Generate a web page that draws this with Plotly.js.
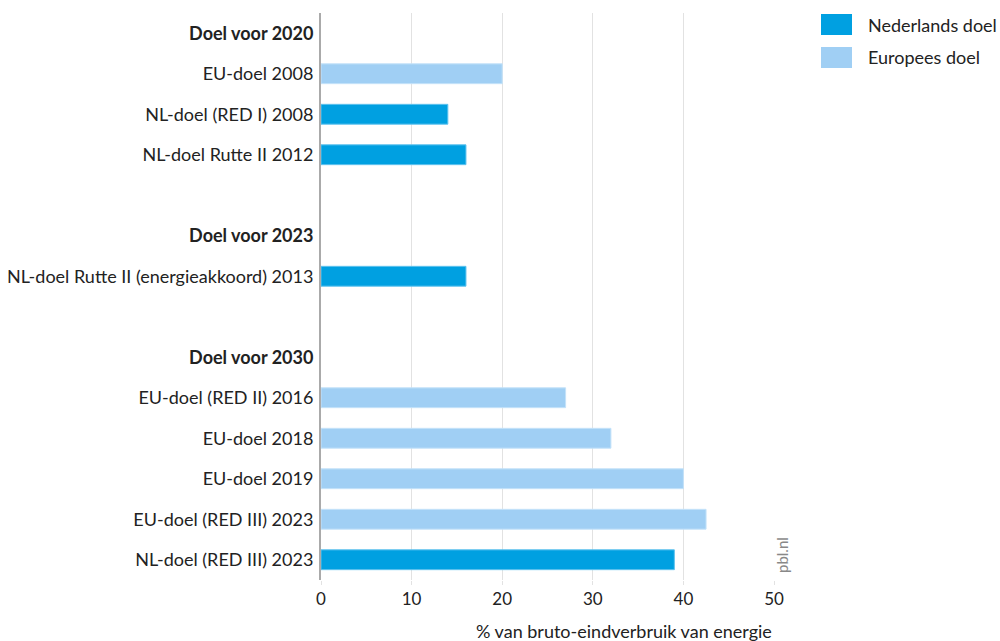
<!DOCTYPE html>
<html>
<head>
<meta charset="utf-8">
<script src="https://cdn.plot.ly/plotly-3.0.1.min.js"></script>
<style>html,body{margin:0;padding:0;background:#fff;}#chart{width:1000px;height:641px;}</style>
</head>
<body>
<div id="chart"></div>
<script>
// Rows top to bottom
const categories = [
  "<b>Doel voor 2020</b>",
  "EU-doel 2008",
  "NL-doel (RED I) 2008",
  "NL-doel Rutte II 2012",
  " ",
  "<b>Doel voor 2023</b>",
  "NL-doel Rutte II (energieakkoord) 2013",
  "  ",
  "<b>Doel voor 2030</b>",
  "EU-doel (RED II) 2016",
  "EU-doel 2018",
  "EU-doel 2019",
  "EU-doel (RED III) 2023",
  "NL-doel (RED III) 2023"
];
const nlCategories = ["NL-doel (RED I) 2008", "NL-doel Rutte II 2012", "NL-doel Rutte II (energieakkoord) 2013", "NL-doel (RED III) 2023"];
const nlValues = [14, 16, 16, 39];
const euCategories = ["EU-doel 2008", "EU-doel (RED II) 2016", "EU-doel 2018", "EU-doel 2019", "EU-doel (RED III) 2023"];
const euValues = [20, 27, 32, 40, 42.5];
const seriesNames = ["Nederlands doel", "Europees doel"];
const xTicks = [0, 10, 20, 30, 40, 50];
const xTitle = "% van bruto-eindverbruik van energie";
const sourceLabel = "pbl.nl";

const darkBlue = "#00a0e1";
const lightBlue = "#a0cff4";
const FONT = "Lato, 'Open Sans', sans-serif";
const FS = 18;

const traces = [
  {type: "bar", orientation: "h", name: seriesNames[0], y: nlCategories, x: nlValues,
   marker: {color: darkBlue, line: {color: "#5fc2ee", width: 1}}, width: 0.49, hoverinfo: "x+y"},
  {type: "bar", orientation: "h", name: seriesNames[1], y: euCategories, x: euValues,
   marker: {color: lightBlue, line: {color: "#c4e2f9", width: 1}}, width: 0.49, hoverinfo: "x+y"}
];

const legendColors = [darkBlue, lightBlue];
const shapes = [];
const annotations = [];
seriesNames.forEach((n, i) => {
  const top = 14 + i * 33;
  shapes.push({type: "rect", xref: "paper", yref: "paper",
    x0: (821 - 321) / 453, x1: (852 - 321) / 453,
    y0: (580 - top) / 567, y1: (580 - top - 21) / 567,
    fillcolor: legendColors[i], line: {width: 0}});
  annotations.push({xref: "paper", yref: "paper", x: (866 - 321) / 453, y: (580 - top - 10.5) / 567,
    xanchor: "left", yanchor: "middle", text: n, showarrow: false,
    font: {family: FONT, size: FS, color: "#222"}});
});
annotations.push({xref: "paper", yref: "paper", x: 1, y: 0, yshift: -51, xanchor: "right", yanchor: "middle",
  text: xTitle, showarrow: false, font: {family: FONT, size: FS, color: "#222"}});
annotations.push({xref: "paper", yref: "paper", x: (782 - 321) / 453, y: (580 - 555) / 567,
  xanchor: "center", yanchor: "middle", text: sourceLabel, textangle: -90, showarrow: false,
  font: {family: FONT, size: 15, color: "#888"}});

const layout = {
  width: 1000, height: 641,
  margin: {l: 321, r: 226, t: 13, b: 61, pad: 0},
  paper_bgcolor: "#fff", plot_bgcolor: "#fff",
  showlegend: false,
  barmode: "overlay",
  font: {family: FONT, size: FS, color: "#222"},
  xaxis: {range: [0, 50], tickvals: xTicks, ticktext: xTicks.map(String),
    showgrid: true, gridcolor: "#e2e2e2", gridwidth: 1, zeroline: false,
    showline: false, ticks: "outside", ticklen: 4, tickcolor: "#e2e2e2",
    tickfont: {family: FONT, size: FS - 1, color: "#222"}, fixedrange: true},
  yaxis: {type: "category", categoryorder: "array", categoryarray: categories.slice().reverse(),
    range: [-0.5, categories.length - 0.5],
    showline: true, linecolor: "#aaa", linewidth: 2, showgrid: false, zeroline: false,
    ticks: "", ticklabelstandoff: 2,
    tickfont: {family: FONT, size: FS, color: "#222"}, fixedrange: true},
  shapes: shapes,
  annotations: annotations
};

// ensure all categories appear
traces.push({type: "bar", orientation: "h", y: categories, x: categories.map(() => null), showlegend: false, hoverinfo: "skip"});

Plotly.newPlot("chart", traces, layout, {displayModeBar: false, staticPlot: true});
</script>
</body>
</html>
